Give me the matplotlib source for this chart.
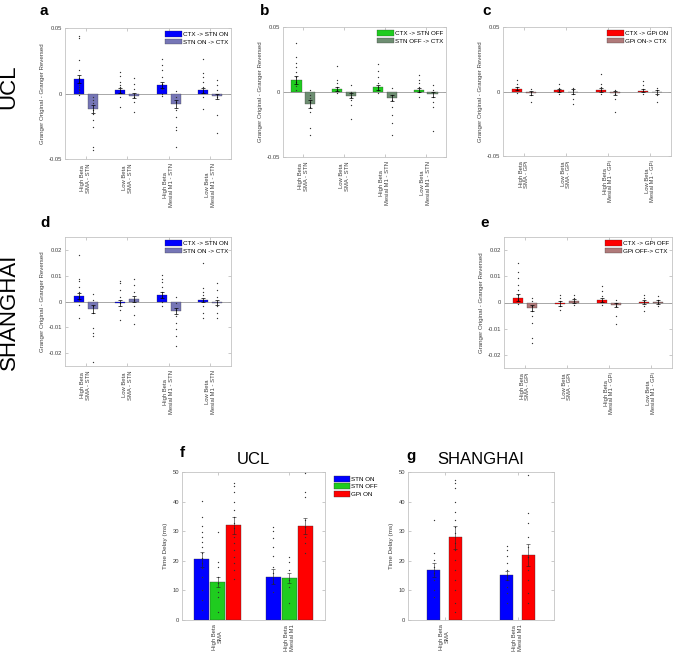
import numpy as np
import matplotlib
matplotlib.use("Agg")
import matplotlib.pyplot as plt

plt.rcParams['font.family'] = ['Liberation Sans', 'DejaVu Sans']

# ---------------- data ----------------
stn_labels = ["High Beta\nSMA - STN", "Low Beta\nSMA - STN",
              "High Beta\nMesial M1 - STN", "Low Beta\nMesial M1 - STN"]
gpi_labels = ["High Beta\nSMA - GPi", "Low Beta\nSMA - GPi",
              "High Beta\nMesial M1 - GPi", "Low Beta\nMesial M1 - GPi"]
delay_labels = ["High Beta\nSMA", "High Beta\nMesial M1"]

# panel a  (UCL, STN ON)
a_fwd = [0.011, 0.0025, 0.0064, 0.0023]
a_rev = [-0.012, -0.0018, -0.008, -0.002]
a_fwd_err = [0.003, 0.002, 0.002, 0.002]
a_rev_err = [0.003, 0.002, 0.003, 0.002]
a_fwd_pts = [[0.0438, 0.0425, 0.0254, 0.0178, 0.0122, 0.0089, 0.0064, 0.0051, 0.0038, 0.0025, 0.0013, -0.0013],
             [0.0165, 0.0132, 0.0089, 0.0064, 0.0046, 0.0013, -0.0025, -0.0102],
             [0.026, 0.0216, 0.0178, 0.0127, 0.0076, 0.0038, 0.0, -0.002],
             [0.0267, 0.0153, 0.0127, 0.0089, 0.0051, 0.0013, -0.0025, -0.0115]]
a_rev_pts = [[-0.0025, -0.0051, -0.0076, -0.0127, -0.0153, -0.0204, -0.0254, -0.0407, -0.0433],
             [0.0115, 0.0076, 0.0038, -0.0025, -0.0064, -0.014],
             [0.002, -0.0025, -0.0064, -0.0127, -0.0178, -0.0254, -0.028, -0.0407],
             [0.0102, 0.0064, 0.0025, -0.0025, -0.0165, -0.0305]]

# panel b  (UCL, STN OFF)
b_fwd = [0.0092, 0.0023, 0.0036, 0.0015]
b_rev = [-0.0092, -0.0028, -0.0046, -0.0018]
b_fwd_err = [0.003, 0.0015, 0.002, 0.0012]
b_rev_err = [0.003, 0.002, 0.002, 0.002]
b_fwd_pts = [[0.038, 0.0272, 0.0221, 0.0195, 0.0156, 0.0118, 0.0079, 0.0046, 0.0015],
             [0.0203, 0.0092, 0.0067, 0.0041, 0.0015, -0.001],
             [0.0213, 0.0164, 0.0118, 0.0067, 0.0041, 0.0015, -0.001],
             [0.0131, 0.0092, 0.0067, 0.0036, 0.0003, -0.0036]]
b_rev_pts = [[0.0015, -0.0023, -0.0049, -0.0074, -0.0113, -0.0151, -0.0279, -0.0331],
             [0.0054, 0.0003, -0.0036, -0.0062, -0.01, -0.021],
             [0.0028, -0.0023, -0.0062, -0.0113, -0.0177, -0.0241, -0.0331],
             [0.0054, 0.0015, -0.0036, -0.0074, -0.0113, -0.0297]]

# panel c  (UCL, GPi ON)
c_fwd = [0.0023, 0.0008, 0.0015, 0.0005]
c_rev = [-0.001, 0.0, -0.0013, -0.0002]
c_fwd_err = [0.0015, 0.0012, 0.0015, 0.0012]
c_rev_err = [0.0015, 0.0018, 0.0015, 0.0015]
c_fwd_pts = [[0.009, 0.0059, 0.0033, 0.0013, -0.0013],
             [0.0059, 0.0028, 0.0008, -0.0018],
             [0.0136, 0.0059, 0.0033, 0.0008, -0.0023],
             [0.0085, 0.0054, 0.0021, -0.0018]]
c_rev_pts = [[0.0021, -0.0005, -0.0031, -0.0082],
             [0.0028, 0.0008, -0.0018, -0.0056, -0.0095],
             [0.0013, -0.0018, -0.0056, -0.0159],
             [0.0028, 0.0008, -0.0031, -0.0082]]

# panel d  (SHANGHAI, STN ON)
d_fwd = [0.0022, -0.0005, 0.0025, 0.0006]
d_rev = [-0.0029, 0.0009, -0.0036, -0.0004]
d_fwd_err = [0.0012, 0.0012, 0.001, 0.0008]
d_rev_err = [0.0014, 0.0012, 0.0012, 0.0008]
d_fwd_pts = [[0.0182, 0.0087, 0.0079, 0.0057, 0.0038, 0.0019, 0.0006, -0.0013, -0.0064],
             [0.0079, 0.007, 0.0045, 0.0019, -0.0006, -0.0032, -0.007],
             [0.0102, 0.0089, 0.0076, 0.0057, 0.0038, 0.0019, 0.0, -0.0019],
             [0.0149, 0.0051, 0.0038, 0.0025, 0.0006, -0.0019, -0.0045, -0.0064]]
d_rev_pts = [[0.0028, 0.0006, -0.0019, -0.0045, -0.0102, -0.0121, -0.0134, -0.0236],
             [0.0089, 0.0064, 0.0038, 0.0006, -0.0019, -0.0051, -0.0089],
             [0.0019, -0.0006, -0.0032, -0.0057, -0.0083, -0.0108, -0.0134, -0.0172],
             [0.007, 0.0045, 0.0019, 0.0, -0.0019, -0.0045, -0.0064]]

# panel e  (SHANGHAI, GPi OFF)
e_fwd = [0.0019, -0.0004, 0.001, 0.0002]
e_rev = [-0.0022, 0.0006, -0.001, 0.0002]
e_fwd_err = [0.0012, 0.0008, 0.0008, 0.0008]
e_rev_err = [0.0012, 0.0008, 0.0008, 0.0008]
e_fwd_pts = [[0.0149, 0.0118, 0.0092, 0.0067, 0.0048, 0.0029, 0.001, -0.0005],
             [0.0029, 0.0016, 0.0004, -0.0013, -0.0028],
             [0.0063, 0.0042, 0.0023, 0.0004, -0.0009],
             [0.0029, 0.0016, 0.0004, -0.0015, -0.0034]]
e_rev_pts = [[0.0016, 0.0004, -0.0015, -0.0034, -0.0053, -0.0078, -0.0135, -0.0154],
             [0.0029, 0.0016, 0.0004, -0.0009],
             [0.001, -0.0003, -0.0015, -0.0053, -0.0081],
             [0.0023, 0.001, -0.0003, -0.0015]]

# panel f  (UCL time delay, ms)
f_series = ["STN ON", "STN OFF", "GPi ON"]
f_mean = [[20.5, 14.6], [12.8, 14.2], [32.0, 31.7]]
f_err = [[2.5, 2.6], [1.7, 1.7], [2.8, 2.7]]
f_pts = [[[40.3, 34.9, 31.9, 29.8, 28.1, 26.3, 24.5, 22.7, 20.8, 19.1, 17.5, 14.6, 10.1, 6.8, 3.4],
          [31.5, 30.2, 27.6, 24.8, 21.6, 18.0, 15.8, 14.0, 12.4, 9.5]],
         [[29.8, 19.7, 18.0, 14.6, 12.4, 9.5, 7.9, 2.8],
          [21.4, 19.7, 16.9, 13.5, 11.3, 5.6]],
         [[46.4, 45.2, 43.3, 39.9, 37.2, 34.9, 32.7, 31.0, 28.1, 25.9, 23.6, 21.4, 19.1, 16.9, 14.0],
          [49.6, 43.3, 41.6, 33.8, 31.5, 28.1, 25.9, 22.5]]]

# panel g  (SHANGHAI time delay, ms)
g_mean = [[16.9, 15.1], [27.9, 21.9]]
g_err = [[2.3, 1.5], [4.0, 3.8]]
g_pts = [[[33.8, 22.5, 20.3, 18.0, 15.8, 13.5, 10.1, 7.9],
          [25.0, 23.6, 21.7, 19.4, 16.9, 15.2, 13.5, 11.3, 9.0, 5.6]],
         [[47.3, 46.2, 44.5, 40.0, 36.6, 33.8, 31.5, 29.3, 25.9, 23.6, 20.3, 16.9, 13.5, 10.1, 5.6, 2.8],
          [49.0, 36.0, 32.7, 28.1, 24.8, 21.4, 16.9, 13.5, 9.0, 5.6]]]

# ---------------- style ----------------
BLUE, BLUE2 = '#0000ff', '#7676b6'
GREEN, GREEN2 = '#1fcc1f', '#6e8e72'
RED, RED2 = '#ff0000', '#b07a7a'
FRAME = '#c4c4c4'
TXT = '#404040'

W, H = 673, 666
fig = plt.figure(figsize=(W / 100, H / 100), dpi=100)


def px_axes(x, y, w, h):
    return fig.add_axes([x / W, 1 - (y + h) / H, w / W, h / H])


def style(ax):
    for s in ax.spines.values():
        s.set_color(FRAME)
        s.set_linewidth(0.6)
    ax.tick_params(direction='in', length=2, width=0.4, color='#a0a0a0',
                   labelcolor=TXT, labelsize=4.2, top=True, right=True, pad=2)


def granger(ax, fwd, rev, fe, re, fp, rp, cols, names, xlab, lim, ticks, ticklab):
    x = np.arange(1, 5)
    off, bw = 0.17, 0.25
    ax.axhline(0, color='#9a9a9a', lw=0.6, zorder=1)
    b1 = ax.bar(x - off, fwd, bw, color=cols[0], edgecolor='#303030', lw=0.2, zorder=2, label=names[0])
    b2 = ax.bar(x + off, rev, bw, color=cols[1], edgecolor='#303030', lw=0.2, zorder=2, label=names[1])
    for i in range(4):
        ax.scatter([x[i] - off] * len(fp[i]), fp[i], s=0.9, color='#333333', lw=0, zorder=3)
        ax.scatter([x[i] + off] * len(rp[i]), rp[i], s=0.9, color='#333333', lw=0, zorder=3)
    ax.errorbar(x - off, fwd, yerr=fe, fmt='none', ecolor='k', elinewidth=0.5, capsize=1.5, capthick=0.5, zorder=4)
    ax.errorbar(x + off, rev, yerr=re, fmt='none', ecolor='k', elinewidth=0.5, capsize=1.5, capthick=0.5, zorder=4)
    ax.set_xlim(0.5, 4.5)
    ax.set_ylim(-lim, lim)
    ax.set_yticks(ticks)
    ax.set_yticklabels(ticklab)
    ax.set_xticks(x)
    ax.set_xticklabels(xlab, rotation=90, fontsize=4.7, color='#202020', multialignment='center')
    ax.set_ylabel("Granger Original - Granger Reversed", fontsize=4.4, color=TXT, labelpad=3)
    style(ax)
    ax.tick_params(axis='x', pad=3)
    ax.legend(handles=[b1, b2], loc='upper right', frameon=False, fontsize=4.5,
              handlelength=2.8, handleheight=1.0, handletextpad=0.1, labelspacing=0.25,
              borderaxespad=0.3, borderpad=0.2)


t5 = [-0.05, 0, 0.05]
t5l = ['-0.05', '0', '0.05']
t2 = [-0.02, -0.01, 0, 0.01, 0.02]
t2l = ['-0.02', '-0.01', '0', '0.01', '0.02']

ax_a = px_axes(65, 28, 166, 131)
granger(ax_a, a_fwd, a_rev, a_fwd_err, a_rev_err, a_fwd_pts, a_rev_pts, (BLUE, BLUE2),
        ("CTX -> STN ON", "STN ON -> CTX"), stn_labels, 0.05, t5, t5l)
ax_b = px_axes(283, 27, 163, 130)
granger(ax_b, b_fwd, b_rev, b_fwd_err, b_rev_err, b_fwd_pts, b_rev_pts, (GREEN, GREEN2),
        ("CTX -> STN OFF", "STN OFF -> CTX"), stn_labels, 0.05, t5, t5l)
ax_c = px_axes(503, 27, 168, 129)
granger(ax_c, c_fwd, c_rev, c_fwd_err, c_rev_err, c_fwd_pts, c_rev_pts, (RED, RED2),
        ("CTX -> GPi ON", "GPi ON-> CTX"), gpi_labels, 0.05, t5, t5l)
ax_d = px_axes(65, 237, 166, 129)
granger(ax_d, d_fwd, d_rev, d_fwd_err, d_rev_err, d_fwd_pts, d_rev_pts, (BLUE, BLUE2),
        ("CTX -> STN ON", "STN ON -> CTX"), stn_labels, 0.025, t2, t2l)
ax_e = px_axes(504, 237, 168, 131)
granger(ax_e, e_fwd, e_rev, e_fwd_err, e_rev_err, e_fwd_pts, e_rev_pts, (RED, RED2),
        ("CTX -> GPi OFF", "GPi OFF-> CTX"), gpi_labels, 0.025, t2, t2l)


def delay(ax, means, errs, pts, cols, offs, bw, title):
    x = np.arange(1, 3)
    bars = []
    for k in range(len(means)):
        b = ax.bar(x + offs[k], means[k], bw, color=cols[k], edgecolor='#303030', lw=0.25, zorder=2)
        bars.append(b)
        for i in range(2):
            ax.scatter([x[i] + offs[k]] * len(pts[k][i]), pts[k][i], s=0.9, color='#333333', lw=0, zorder=3)
        ax.errorbar(x + offs[k], means[k], yerr=errs[k], fmt='none', ecolor='#222222', elinewidth=0.4,
                    capsize=1.5, capthick=0.4, zorder=4)
    ax.set_xlim(0.5, 2.5)
    ax.set_ylim(0, 50)
    ax.set_yticks(range(0, 51, 10))
    ax.set_xticks(x)
    ax.set_xticklabels(delay_labels, rotation=90, fontsize=4.7, color='#202020', multialignment='center')
    ax.set_ylabel("Time Delay (ms)", fontsize=4.6, color=TXT, labelpad=3)
    ax.set_title(title, fontsize=12, pad=6)
    style(ax)
    ax.tick_params(axis='x', pad=3)
    return bars


ax_f = px_axes(182, 472, 143, 148)
fb = delay(ax_f, f_mean, f_err, f_pts, (BLUE, GREEN, RED), (-0.225, 0, 0.225), 0.21, "UCL")
ax_f.legend(handles=fb, labels=f_series, loc='upper left', bbox_to_anchor=(330 / W, 1 - 472 / H),
            bbox_transform=fig.transFigure, frameon=False, fontsize=4.5, handlelength=2.6,
            handleheight=1.1, handletextpad=0.2, labelspacing=0.2, borderpad=0.1)
ax_g = px_axes(408, 472, 146, 148)
delay(ax_g, g_mean, g_err, g_pts, (BLUE, RED), (-0.15, 0.15), 0.18, "SHANGHAI")

# panel letters and row labels
for lab, xx, yy in [('a', 40, 4), ('b', 260, 4), ('c', 482, 4), ('d', 40, 216),
                    ('e', 480, 216), ('f', 180, 446), ('g', 406, 449)]:
    fig.text(xx / W, 1 - yy / H, lab, fontsize=11, fontweight='bold', va='top', ha='left')
fig.text(9 / W, 1 - 87 / H, "UCL", rotation=90, fontsize=16, ha='center', va='center')
fig.text(9 / W, 1 - 312 / H, "SHANGHAI", rotation=90, fontsize=16, ha='center', va='center')

fig.savefig("out.png", dpi=100)
